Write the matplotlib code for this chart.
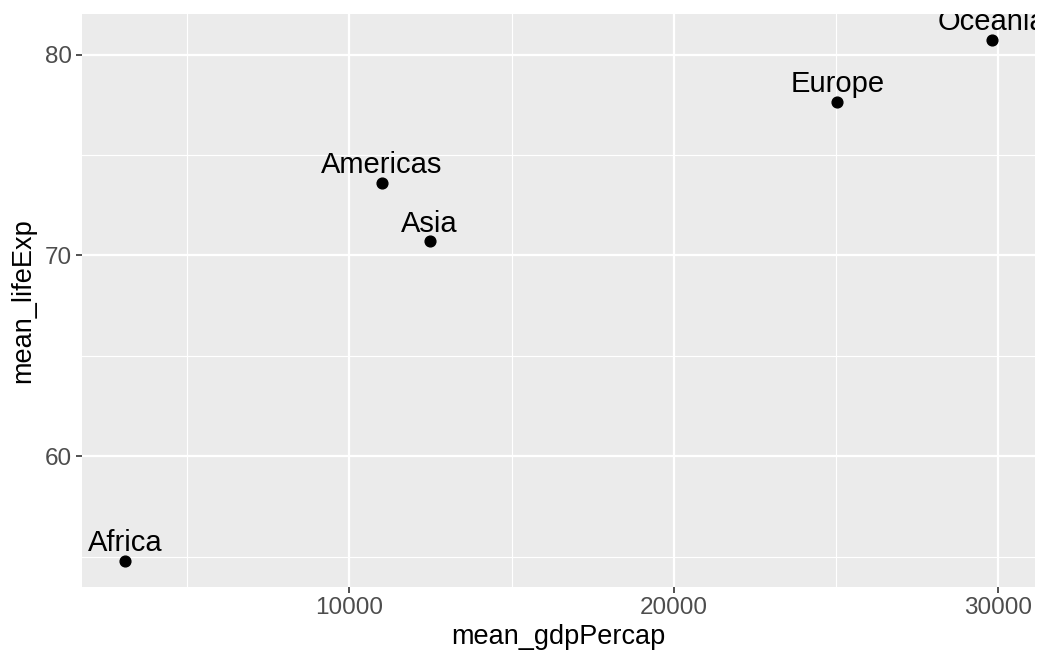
import matplotlib
matplotlib.use('Agg')
import matplotlib.pyplot as plt
from matplotlib.ticker import MultipleLocator

plt.rcParams['font.family'] = ['Liberation Sans', 'DejaVu Sans']

continents = ['Africa', 'Americas', 'Asia', 'Europe', 'Oceania']
mean_gdpPercap = [3089, 11003, 12473, 25054, 29810]
mean_lifeExp = [54.8, 73.6, 70.7, 77.65, 80.72]

fig = plt.figure(figsize=(10.39, 6.57), dpi=100)
ax = fig.add_axes([82 / 1039, 1 - 587 / 657, (1035 - 82) / 1039, (587 - 14) / 657])
ax.set_facecolor('#EBEBEB')

# ggplot-like 5% expansion
xspan = max(mean_gdpPercap) - min(mean_gdpPercap)
yspan = max(mean_lifeExp) - min(mean_lifeExp)
ax.set_xlim(min(mean_gdpPercap) - 0.05 * xspan, max(mean_gdpPercap) + 0.05 * xspan)
ax.set_ylim(min(mean_lifeExp) - 0.05 * yspan, max(mean_lifeExp) + 0.05 * yspan)

ax.xaxis.set_major_locator(MultipleLocator(10000))
ax.xaxis.set_minor_locator(MultipleLocator(5000))
ax.yaxis.set_major_locator(MultipleLocator(10))
ax.yaxis.set_minor_locator(MultipleLocator(5))
ax.grid(which='major', color='white', linewidth=1.6)
ax.grid(which='minor', color='white', linewidth=0.8)
ax.set_axisbelow(True)
for s in ax.spines.values():
    s.set_visible(False)
ax.tick_params(which='major', length=4.5, width=1.2, color='#333333',
               labelsize=17.5, labelcolor='#4D4D4D', pad=3)
ax.tick_params(which='minor', length=0)

ax.scatter(mean_gdpPercap, mean_lifeExp, s=60, color='black', zorder=3)
for name, x, y in zip(continents, mean_gdpPercap, mean_lifeExp):
    t = ax.annotate(name, (x, y), xytext=(0, 7), textcoords='offset points',
                    ha='center', va='baseline', fontsize=21, color='black')
    t.set_clip_on(True)
    t.set_clip_box(ax.bbox)

ax.set_xlabel('mean_gdpPercap', fontsize=19.5, labelpad=3)
ax.set_ylabel('mean_lifeExp', fontsize=19.5, labelpad=6)

fig.savefig('out.png', dpi=100)
